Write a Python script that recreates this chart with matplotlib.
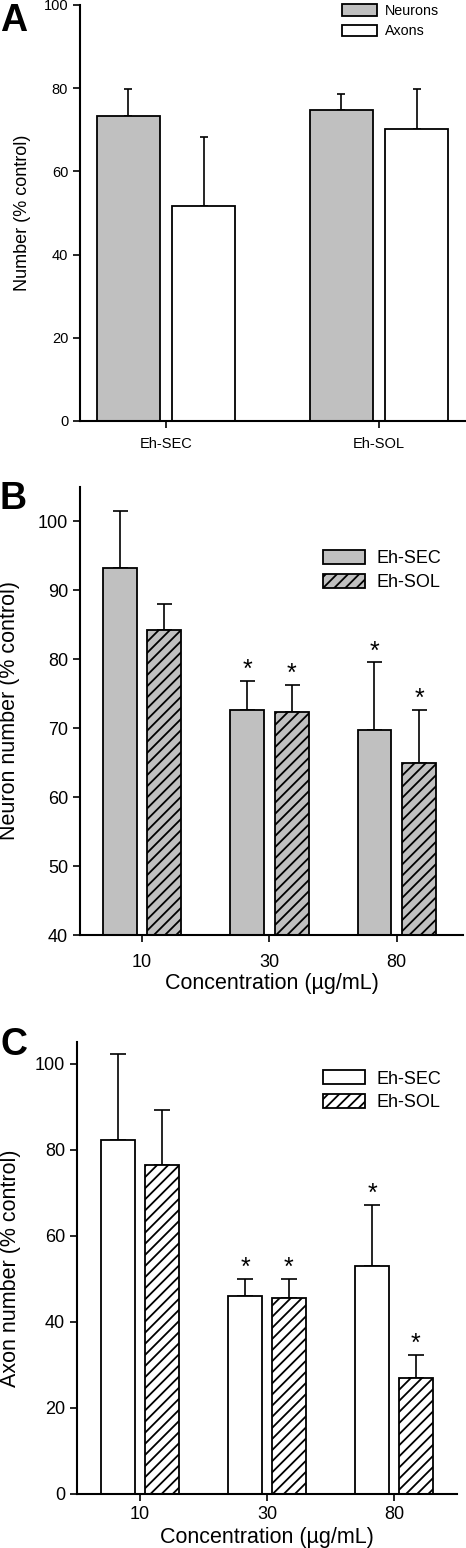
import numpy as np
import matplotlib
matplotlib.use("Agg")
import matplotlib.pyplot as plt

plt.rcParams['font.family'] = ['Liberation Sans', 'DejaVu Sans']
plt.rcParams['hatch.linewidth'] = 1.3

GRAY = '#c0c0c0'

# ---------------- data ----------------
# Panel A
a_categories = ['Eh-SEC', 'Eh-SOL']
a_neurons = [73.2, 74.8]
a_neurons_err = [6.6, 3.8]
a_axons = [51.8, 70.3]
a_axons_err = [16.5, 9.6]

# Panel B (neuron number)
conc_labels = ['10', '30', '80']
b_sec = [93.2, 72.6, 69.7]
b_sec_err = [8.3, 4.3, 9.9]
b_sol = [84.2, 72.3, 64.9]
b_sol_err = [3.8, 4.0, 7.8]
b_sec_sig = [False, True, True]
b_sol_sig = [False, True, True]

# Panel C (axon number)
c_sec = [82.3, 46.0, 53.0]
c_sec_err = [19.8, 4.0, 14.2]
c_sol = [76.5, 45.6, 27.0]
c_sol_err = [12.8, 4.4, 5.3]
c_sec_sig = [False, True, True]
c_sol_sig = [False, True, True]

W, H = 466, 1548
fig = plt.figure(figsize=(W / 100, H / 100), dpi=100)


def axes_px(left, right, top, bottom):
    return fig.add_axes([left / W, 1 - bottom / H, (right - left) / W, (bottom - top) / H])


def style(ax, lw=1.5):
    for s in ['top', 'right']:
        ax.spines[s].set_visible(False)
    for s in ['left', 'bottom']:
        ax.spines[s].set_linewidth(lw)
    ax.tick_params(direction='out', length=5, width=1.2, color='black')


def stars(ax, xs, tops, sig, fs):
    for x, t, s in zip(xs, tops, sig):
        if s:
            ax.annotate('*', xy=(x, t), xytext=(0, -1), textcoords='offset points',
                        ha='center', va='bottom', fontsize=fs)


# ---------------- Panel A ----------------
axA = axes_px(80, 466, 5, 421)
xa = np.arange(len(a_categories))
wa = 0.296
offA = 0.177
axA.bar(xa - offA, a_neurons, wa, color=GRAY, edgecolor='black', linewidth=1.3, label='Neurons', zorder=2)
axA.bar(xa + offA, a_axons, wa, color='white', edgecolor='black', linewidth=1.3, label='Axons', zorder=2)
axA.errorbar(xa - offA, a_neurons, yerr=[np.zeros(2), a_neurons_err], fmt='none', ecolor='black',
             elinewidth=1.2, capsize=3.0, capthick=1.2, zorder=1)
axA.errorbar(xa + offA, a_axons, yerr=[np.zeros(2), a_axons_err], fmt='none', ecolor='black',
             elinewidth=1.2, capsize=3.0, capthick=1.2, zorder=1)
axA.set_xlim(-0.404, 1.408)
axA.set_ylim(0, 100)
axA.set_yticks(np.arange(0, 101, 20))
axA.set_xticks(xa)
axA.set_xticklabels(a_categories, fontsize=10.5)
axA.tick_params(axis='y', labelsize=10.5)
style(axA)
axA.tick_params(axis='x', pad=6.5)
axA.set_ylabel('Number (% control)', fontsize=13)
axA.yaxis.set_label_coords(-0.128, 0.5)
axA.legend(loc='upper left', bbox_to_anchor=(0.678, 1.003), frameon=False, fontsize=10.3,
           handlelength=2.45, handleheight=0.85, handletextpad=0.55, labelspacing=0.45,
           borderpad=0, borderaxespad=0)
fig.text(0 / W, 1 - 3 / H, 'A', fontsize=27, fontweight='bold', ha='left', va='top')

# ---------------- Panel B ----------------
axB = axes_px(80, 463, 487, 935)
xb = np.arange(len(conc_labels))
wb = 0.265
offB = 0.175
axB.bar(xb - offB, b_sec, wb, color=GRAY, edgecolor='black', linewidth=1.3, label='Eh-SEC', zorder=2)
axB.bar(xb + offB, b_sol, wb, color=GRAY, edgecolor='black', linewidth=1.3, hatch='///',
        label='Eh-SOL', zorder=2)
axB.errorbar(xb - offB, b_sec, yerr=[np.zeros(3), b_sec_err], fmt='none', ecolor='black',
             elinewidth=1.2, capsize=5.4, capthick=1.2, zorder=1)
axB.errorbar(xb + offB, b_sol, yerr=[np.zeros(3), b_sol_err], fmt='none', ecolor='black',
             elinewidth=1.2, capsize=5.4, capthick=1.2, zorder=1)
stars(axB, xb - offB, np.array(b_sec) + np.array(b_sec_err), b_sec_sig, 18)
stars(axB, xb + offB, np.array(b_sol) + np.array(b_sol_err), b_sol_sig, 18)
axB.set_xlim(-0.486, 2.52)
axB.set_ylim(40, 105)
axB.set_yticks(np.arange(40, 101, 10))
axB.set_xticks(xb)
axB.set_xticklabels(conc_labels)
axB.tick_params(axis='both', labelsize=13)
style(axB)
axB.tick_params(axis='x', pad=9)
axB.set_ylabel('Neuron number (% control)', fontsize=15.5)
axB.yaxis.set_label_coords(-0.157, 0.5)
axB.set_xlabel('Concentration (\u00b5g/mL)', fontsize=15.5, labelpad=1)
axB.legend(loc='upper left', bbox_to_anchor=(0.634, 0.86), frameon=False, fontsize=13,
           handlelength=2.35, handleheight=0.8, handletextpad=0.6, labelspacing=0.38,
           borderpad=0, borderaxespad=0)
fig.text(0 / W, 1 - 481 / H, 'B', fontsize=27, fontweight='bold', ha='left', va='top')

# ---------------- Panel C ----------------
axC = axes_px(77, 457, 1042, 1494)
xc = np.arange(len(conc_labels))
wc = 0.268
offC = 0.173
axC.bar(xc - offC, c_sec, wc, color='white', edgecolor='black', linewidth=1.3, label='Eh-SEC', zorder=2)
axC.bar(xc + offC, c_sol, wc, color='white', edgecolor='black', linewidth=1.3, hatch='///',
        label='Eh-SOL', zorder=2)
axC.errorbar(xc - offC, c_sec, yerr=[np.zeros(3), c_sec_err], fmt='none', ecolor='black',
             elinewidth=1.2, capsize=5.8, capthick=1.2, zorder=1)
axC.errorbar(xc + offC, c_sol, yerr=[np.zeros(3), c_sol_err], fmt='none', ecolor='black',
             elinewidth=1.2, capsize=5.8, capthick=1.2, zorder=1)
stars(axC, xc - offC, np.array(c_sec) + np.array(c_sec_err), c_sec_sig, 18)
stars(axC, xc + offC, np.array(c_sol) + np.array(c_sol_err), c_sol_sig, 18)
axC.set_xlim(-0.496, 2.496)
axC.set_ylim(0, 105)
axC.set_yticks(np.arange(0, 101, 20))
axC.set_xticks(xc)
axC.set_xticklabels(conc_labels)
axC.tick_params(axis='both', labelsize=13)
style(axC)
axC.set_ylabel('Axon number (% control)', fontsize=15.5)
axC.yaxis.set_label_coords(-0.147, 0.5)
axC.set_xlabel('Concentration (\u00b5g/mL)', fontsize=15.5, labelpad=3)
axC.legend(loc='upper left', bbox_to_anchor=(0.647, 0.937), frameon=False, fontsize=13,
           handlelength=2.35, handleheight=0.8, handletextpad=0.6, labelspacing=0.35,
           borderpad=0, borderaxespad=0)
fig.text(0 / W, 1 - 1027 / H, 'C', fontsize=27, fontweight='bold', ha='left', va='top')

fig.savefig('out.png', dpi=100)
